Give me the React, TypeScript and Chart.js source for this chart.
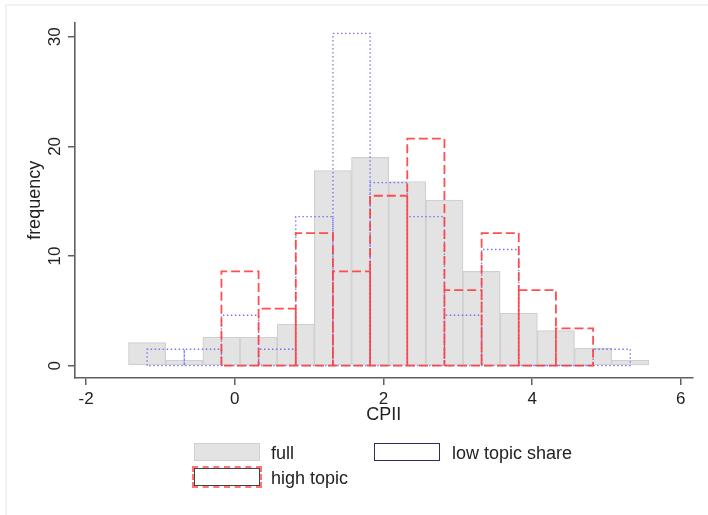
import React, { useEffect, useRef } from "react";
import { Chart, registerables } from "chart.js";

Chart.register(...registerables);

// ---- data ----
const binWidth = 0.5;
const fullBinStarts = [-1.43, -0.93, -0.43, 0.07, 0.57, 1.07, 1.57, 2.07, 2.57, 3.07, 3.57, 4.07, 4.57, 5.07];
const fullValues = [2.1, 0.5, 2.6, 2.6, 3.8, 17.8, 19.0, 16.8, 15.1, 8.6, 4.8, 3.2, 1.6, 0.5];
const lowBinStarts = [-1.18, -0.68, -0.18, 0.32, 0.82, 1.32, 1.82, 2.32, 2.82, 3.32, 3.82, 4.32, 4.82];
const lowValues = [1.5, 1.5, 4.6, 1.5, 13.6, 30.3, 16.7, 13.6, 4.6, 10.6, 0, 0, 1.5];
const highBinStarts = [-0.18, 0.32, 0.82, 1.32, 1.82, 2.32, 2.82, 3.32, 3.82, 4.32];
const highValues = [8.6, 5.2, 12.1, 8.6, 15.5, 20.7, 6.9, 12.1, 6.9, 3.4];
const xTicks = [-2, 0, 2, 4, 6];
const yTicks = [0, 10, 20, 30];
const seriesLabels = ["full", "low topic share", "high topic"];
const xTitle = "CPII";
const yTitle = "frequency";

const FONT = "'Liberation Sans', Arial, Helvetica, sans-serif";
const TEXT = "#222";
const AXIS = "#5f5f5f";

function outline(starts: number[], vals: number[]) {
  const pts: { x: number; y: number }[] = [];
  starts.forEach((l, i) => {
    const r = l + binWidth;
    pts.push({ x: l, y: 0 }, { x: l, y: vals[i] }, { x: r, y: vals[i] }, { x: r, y: 0 });
  });
  pts.push({ x: starts[0], y: 0 });
  return pts;
}

export default function App() {
  const ref = useRef<HTMLCanvasElement | null>(null);

  useEffect(() => {
    if (!ref.current) return;
    Chart.defaults.font.family = FONT;
    const chart = new Chart(ref.current, {
      type: "bar",
      data: {
        datasets: [
          {
            type: "bar",
            label: seriesLabels[0],
            data: fullBinStarts.map((s, i) => ({ x: s + binWidth / 2, y: fullValues[i] })),
            backgroundColor: "#e3e3e3",
            borderColor: "#d0d0d0",
            borderWidth: 1.2,
            borderSkipped: false,
            barPercentage: 1,
            categoryPercentage: 1,
            grouped: false,
            order: 3,
          } as any,
          {
            type: "line",
            label: seriesLabels[1],
            data: outline(lowBinStarts, lowValues),
            borderColor: "rgba(95,95,250,0.85)",
            borderWidth: 1.3,
            borderDash: [1.5, 2.5],
            pointRadius: 0,
            fill: false,
            tension: 0,
            order: 2,
          } as any,
          {
            type: "line",
            label: seriesLabels[2],
            data: outline(highBinStarts, highValues),
            borderColor: "rgba(255,60,60,0.9)",
            borderWidth: 1.8,
            borderDash: [9, 4],
            pointRadius: 0,
            fill: false,
            tension: 0,
            order: 1,
          } as any,
        ],
      },
      options: {
        responsive: false,
        animation: false,
        devicePixelRatio: 1,
        events: [],
        layout: { padding: { left: 0, top: 22.7, right: 15.3, bottom: 89 } },
        plugins: { legend: { display: false }, tooltip: { enabled: false } },
        scales: {
          x: {
            type: "linear",
            min: -2.15,
            max: 6.16,
            offset: false,
            grid: { offset: false, drawOnChartArea: false, drawTicks: true, tickLength: 7, color: AXIS, lineWidth: 1.5 },
            border: { display: true, color: AXIS, width: 1.6 },
            ticks: {
              font: { size: 17 },
              color: TEXT,
              padding: 4,
              maxRotation: 0,
              autoSkip: false,
              callback: (v: any) => String(v),
            },
            afterBuildTicks: (s: any) => {
              s.ticks = xTicks.map((v) => ({ value: v }));
            },
            afterFit: (s: any) => {
              s.height = 48;
            },
            title: { display: true, text: xTitle, font: { size: 18 }, color: TEXT, padding: { top: 0, bottom: 0 } },
          },
          y: {
            type: "linear",
            min: -1.12,
            max: 31.28,
            grid: { offset: false, drawOnChartArea: false, drawTicks: true, tickLength: 7, color: AXIS, lineWidth: 1.5 },
            border: { display: true, color: AXIS, width: 1.6 },
            ticks: {
              font: { size: 17 },
              color: TEXT,
              padding: 3.5,
              minRotation: 90,
              maxRotation: 90,
              crossAlign: "center",
              autoSkip: false,
              callback: (v: any) => String(v),
            },
            afterBuildTicks: (s: any) => {
              s.ticks = yTicks.map((v) => ({ value: v }));
            },
            afterFit: (s: any) => {
              s.width = 75;
            },
            title: { display: true, text: yTitle, font: { size: 18 }, color: TEXT, padding: { top: 24, bottom: 0 } },
          },
        },
      } as any,
    });
    return () => chart.destroy();
  }, []);

  const textStyle: React.CSSProperties = {
    position: "absolute",
    fontFamily: FONT,
    fontSize: 18,
    lineHeight: "20px",
    color: TEXT,
    whiteSpace: "nowrap",
  };
  const keyBase: React.CSSProperties = { position: "absolute", width: 66, height: 18, boxSizing: "border-box" };

  return (
    <div style={{ position: "absolute", left: 0, top: 0, width: 708, height: 515, background: "#fff", overflow: "hidden" }}>
      <div
        style={{
          position: "absolute",
          left: 5,
          top: 4,
          width: 703,
          height: 511,
          borderLeft: "2px solid #f0f2f2",
          borderTop: "2px solid #f0f2f2",
        }}
      />
      <canvas ref={ref} width={708} height={515} style={{ position: "absolute", left: 0, top: 0 }} />
      <div style={{ ...keyBase, left: 194, top: 443, background: "#e3e3e3", border: "1.5px solid #d0d0d0" }} />
      <div style={{ ...textStyle, left: 271, top: 443 }}>{seriesLabels[0]}</div>
      <div style={{ ...keyBase, left: 374, top: 443, background: "#fff", border: "1.5px solid #2c2c5e" }} />
      <div style={{ ...textStyle, left: 452, top: 443 }}>{seriesLabels[1]}</div>
      <div
        style={{
          ...keyBase,
          left: 194,
          top: 468,
          background: "#fff",
          border: "1.2px solid #444",
          outline: "2px dashed rgba(255,80,80,0.8)",
        }}
      />
      <div style={{ ...textStyle, left: 271, top: 468 }}>{seriesLabels[2]}</div>
    </div>
  );
}
